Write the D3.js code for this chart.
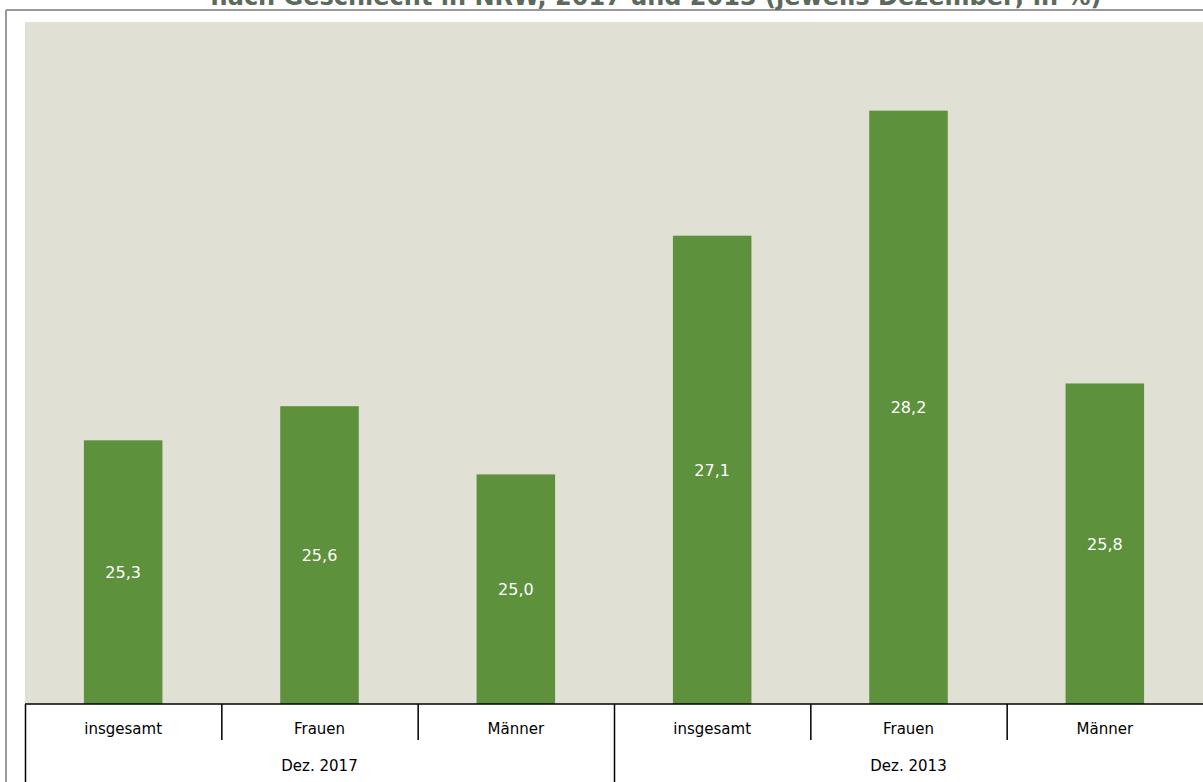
<!DOCTYPE html>
<html><head><meta charset="utf-8">
<script src="https://cdn.jsdelivr.net/npm/d3@7"></script>
<style>body{margin:0;background:#fff;overflow:hidden}svg{display:block}</style>
</head><body>
<script>
const categories = ["insgesamt","Frauen","Männer","insgesamt","Frauen","Männer"];
const groups = ["Dez. 2017","Dez. 2013"];
const groupOf = [0,0,0,1,1,1];
const values = [25.3,25.6,25.0,27.1,28.2,25.8];
const labels = ["25,3","25,6","25,0","27,1","28,2","25,8"];
const titleText = "nach Geschlecht in NRW, 2017 und 2013 (jeweils Dezember; in %)";

(function(){
const W=1203,H=782;
const svg=d3.select("body").append("svg").attr("width",W).attr("height",H);
const pl=25,pr=1203,pt=22,pb=704;
const font="'DejaVu Sans', Verdana, sans-serif";

// frame
svg.append("line").attr("x1",6).attr("x2",W).attr("y1",10).attr("y2",10).attr("stroke","#999").attr("stroke-width",2);
svg.append("line").attr("x1",6).attr("x2",6).attr("y1",10).attr("y2",H).attr("stroke","#999").attr("stroke-width",2);

svg.append("text").attr("x",656).attr("y",5).attr("text-anchor","middle")
  .attr("font-family",font).attr("font-weight","bold").attr("font-size",24).attr("fill","#5b6a5b").text(titleText);

svg.append("rect").attr("x",pl).attr("y",pt).attr("width",pr-pl).attr("height",pb-pt).attr("fill","#e0e1d4");

const x=d3.scaleBand().domain(d3.range(categories.length)).range([pl,pr]).paddingInner(0).paddingOuter(0);
const y=d3.scaleLinear().domain([22.98,28.98]).range([pb,pt]);
const bw=x.bandwidth()*0.4;

svg.selectAll("rect.bar").data(values).join("rect").attr("class","bar")
  .attr("x",(d,i)=>x(i)+x.bandwidth()/2-bw/2).attr("width",bw)
  .attr("y",d=>y(d)).attr("height",d=>pb-y(d)).attr("fill","#5d913b");

svg.selectAll("text.lab").data(values).join("text").attr("class","lab")
  .attr("x",(d,i)=>x(i)+x.bandwidth()/2).attr("y",d=>(y(d)+pb)/2+6)
  .attr("text-anchor","middle").attr("font-family",font).attr("font-size",16).attr("fill","#fff")
  .text((d,i)=>labels[i]);

// axis
svg.append("line").attr("x1",pl).attr("x2",pr).attr("y1",pb).attr("y2",pb).attr("stroke","#000").attr("stroke-width",1.5);
categories.forEach((c,i)=>{
  const x0=x(i);
  const full = i===0 || groupOf[i]!==groupOf[i-1];
  svg.append("line").attr("x1",x0+0.5).attr("x2",x0+0.5).attr("y1",pb).attr("y2",full?H:740).attr("stroke","#000").attr("stroke-width",1.5);
  svg.append("text").attr("x",x0+x.bandwidth()/2).attr("y",734).attr("text-anchor","middle")
    .attr("font-family",font).attr("font-size",15).attr("fill","#000").text(c);
});
groups.forEach((g,gi)=>{
  const idx=d3.range(categories.length).filter(i=>groupOf[i]===gi);
  const x0=x(idx[0]), x1=x(idx[idx.length-1])+x.bandwidth();
  svg.append("text").attr("x",(x0+x1)/2).attr("y",771).attr("text-anchor","middle")
    .attr("font-family",font).attr("font-size",15).attr("fill","#000").text(g);
});
})();
</script>
</body></html>
